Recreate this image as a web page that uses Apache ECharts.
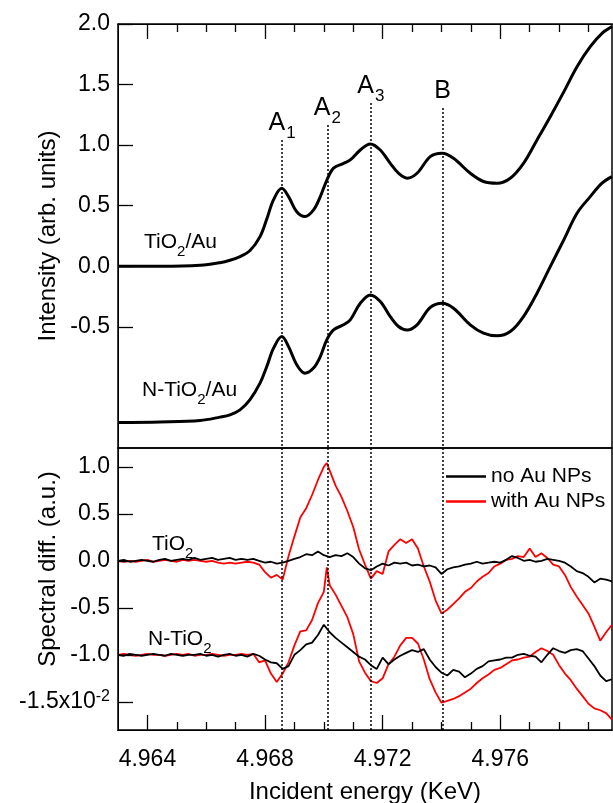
<!DOCTYPE html>
<html>
<head>
<meta charset="utf-8">
<script src="https://cdn.jsdelivr.net/npm/echarts@6.0.0/dist/echarts.min.js"></script>
<style>
html,body{margin:0;padding:0;background:#fff;}
#chart{width:613px;height:803px;}
</style>
</head>
<body>
<div id="chart"></div>
<script>
// ---------- Top panel: XANES spectra ----------
var topEnergy = [4.96300,4.96443,4.96579,4.96647,4.96681,4.96715,4.96749,4.96783,4.96806,4.96829,
  4.96857,4.96880,4.96908,4.96936,4.96965,4.96988,4.97010,4.97033,4.97067,4.97090,
  4.97124,4.97158,4.97192,4.97226,4.97254,4.97283,4.97317,4.97362,4.97402,4.97441,
  4.97498,4.97543,4.97589,4.97634,4.97679,4.97725,4.97770,4.97816,4.97861,4.97906,
  4.97946,4.97980];
var tio2Au = [0.00,0.00,0.008,0.03,0.05,0.08,0.13,0.245,0.39,0.55,
  0.644,0.575,0.45,0.41,0.465,0.575,0.71,0.81,0.85,0.878,
  0.96,1.01,0.96,0.85,0.768,0.727,0.768,0.905,0.933,0.892,
  0.768,0.70,0.686,0.727,0.85,1.043,1.235,1.44,1.648,1.813,
  1.923,1.978];
var nTio2Au = [-1.29,-1.285,-1.273,-1.245,-1.226,-1.185,-1.10,-0.965,-0.827,-0.676,
  -0.58,-0.663,-0.813,-0.882,-0.84,-0.745,-0.607,-0.525,-0.483,-0.442,
  -0.305,-0.236,-0.29,-0.415,-0.497,-0.525,-0.483,-0.34,-0.305,-0.346,
  -0.483,-0.552,-0.574,-0.539,-0.415,-0.222,-0.003,0.218,0.438,0.575,
  0.686,0.74];

// Peak markers
var peakNames = ['A1','A2','A3','B'];
var peakEnergies = [4.96858, 4.97012, 4.97160, 4.97404];
var peakTops = [1.043, 1.167, 1.348, 1.307];

// ---------- Bottom panel: spectral differences (x10^-2) ----------
var diffEnergy = [4.9630,4.9632,4.9634,4.9636,4.9638,4.9640,4.9642,4.9644,4.9646,4.9648,
  4.9650,4.9652,4.9654,4.9656,4.9658,4.9660,4.9662,4.9664,4.9666,4.9668,
  4.9670,4.9672,4.9674,4.9676,4.9678,4.9680,4.9682,4.9684,4.9686,4.9688,
  4.9690,4.9692,4.9694,4.9696,4.9698,4.9700,4.9701,4.9702,4.9704,4.9706,
  4.9708,4.9710,4.9712,4.9714,4.9716,4.9718,4.9720,4.9722,4.9724,4.9726,
  4.9728,4.9730,4.9732,4.9734,4.9736,4.9738,4.9740,4.9742,4.9744,4.9746,
  4.9748,4.9750,4.9752,4.9754,4.9756,4.9758,4.9760,4.9762,4.9764,4.9766,
  4.9768,4.9770,4.9772,4.9774,4.9776,4.9778,4.9780,4.9782,4.9784,4.9786,
  4.9788,4.9790,4.9792,4.9794,4.9796,4.9798];
var tio2NoAu = [0.00,0.01,-0.01,0.00,0.01,0.00,-0.01,0.01,0.02,0.00,
  0.01,0.02,0.01,0.03,0.01,0.02,0.03,0.01,0.02,0.03,
  0.01,0.02,0.01,0.02,0.00,-0.02,-0.01,-0.03,-0.02,0.00,
  0.02,0.04,0.07,0.06,0.10,0.06,0.05,0.04,0.06,0.05,
  0.08,0.04,-0.03,-0.08,-0.10,-0.06,-0.03,-0.05,-0.02,-0.03,
  -0.02,-0.05,-0.04,-0.06,-0.05,-0.07,-0.14,-0.09,-0.07,-0.06,
  -0.04,-0.03,-0.01,-0.03,-0.02,-0.01,-0.02,0.01,0.05,0.03,
  0.00,0.01,-0.01,0.00,0.02,0.01,0.00,-0.02,-0.06,-0.11,
  -0.13,-0.17,-0.23,-0.19,-0.20,-0.22];
var tio2WithAu = [0.00,-0.01,0.00,-0.01,0.00,0.01,-0.01,0.00,0.01,0.00,
  -0.01,0.01,0.00,0.01,0.00,-0.01,0.00,-0.02,-0.03,-0.02,
  -0.03,-0.02,-0.01,-0.02,-0.04,-0.12,-0.18,-0.15,-0.20,0.05,
  0.26,0.46,0.56,0.70,0.86,1.00,1.04,0.96,0.80,0.68,
  0.53,0.36,0.12,-0.04,-0.19,-0.11,-0.14,0.10,0.17,0.23,
  0.19,0.23,0.13,-0.06,-0.22,-0.42,-0.56,-0.52,-0.46,-0.40,
  -0.33,-0.29,-0.22,-0.17,-0.13,-0.06,-0.03,0.01,0.02,0.05,
  0.04,0.13,0.04,0.08,0.03,-0.04,-0.06,-0.15,-0.28,-0.38,
  -0.47,-0.56,-0.70,-0.85,-0.76,-0.68];
var nTio2NoAu = [-1.00,-1.01,-0.99,-1.00,-1.01,-1.00,-0.99,-1.00,-1.01,-0.99,
  -1.00,-1.01,-1.00,-1.00,-0.99,-1.01,-1.00,-1.02,-1.00,-0.99,
  -1.01,-1.00,-1.02,-0.99,-1.01,-1.05,-1.08,-1.09,-1.15,-1.12,
  -1.00,-0.95,-0.89,-0.87,-0.79,-0.68,-0.72,-0.76,-0.82,-0.87,
  -0.92,-0.97,-1.02,-1.05,-1.11,-1.15,-1.03,-1.10,-1.05,-1.01,
  -0.98,-0.95,-0.97,-0.94,-1.05,-1.13,-1.19,-1.22,-1.16,-1.18,
  -1.24,-1.20,-1.15,-1.12,-1.07,-1.06,-1.05,-1.03,-1.03,-1.00,
  -0.99,-1.01,-1.02,-1.08,-1.00,-0.93,-0.96,-0.98,-0.95,-0.94,
  -0.96,-1.04,-1.12,-1.22,-1.28,-1.26];
var nTio2WithAu = [-1.00,-0.99,-1.00,-1.01,-1.00,-0.99,-1.00,-1.00,-1.01,-1.00,
  -0.99,-1.00,-0.99,-1.01,-1.00,-1.00,-0.99,-1.00,-1.01,-1.00,
  -1.00,-0.99,-1.00,-0.99,-1.08,-1.06,-1.20,-1.29,-1.20,-1.08,
  -0.90,-0.75,-0.74,-0.63,-0.45,-0.33,-0.07,-0.26,-0.36,-0.48,
  -0.60,-0.78,-1.07,-1.19,-1.28,-1.30,-1.25,-1.10,-1.02,-0.90,
  -0.82,-0.82,-0.88,-1.05,-1.26,-1.40,-1.51,-1.49,-1.47,-1.44,
  -1.40,-1.36,-1.30,-1.25,-1.21,-1.16,-1.14,-1.10,-1.06,-1.05,
  -1.03,-1.02,-0.97,-0.93,-0.96,-1.00,-1.11,-1.20,-1.27,-1.36,
  -1.44,-1.52,-1.57,-1.59,-1.62,-1.69];

// Tick labels
var xMajorTicks = [4.964, 4.968, 4.972, 4.976];
var xMinorTicks = [4.965,4.966,4.967,4.969,4.970,4.971,4.973,4.974,4.975,4.977,4.978,4.979];
var topYTicks = [-0.5, 0, 0.5, 1.0, 1.5, 2.0];
var bottomYTicks = [-1.5, -1.0, -0.5, 0, 0.5, 1.0];

function pairs(xs, ys){ return xs.map(function(x,i){ return [x, ys[i]]; }); }

var FONT = '"Liberation Sans", Arial, sans-serif';
var chart = echarts.init(document.getElementById('chart'), null, {renderer:'canvas'});

// layout
var X_MIN = 4.963, X_MAX = 4.9798;
var PLOT_W = 494, TOP_H = 424, BOT_H = 282;
var TOP_MIN = -1.5, TOP_MAX = 2.0, BOT_MIN = -1.8, BOT_MAX = 1.2;
var MAJOR_PX = 15, MINOR_PX = 8;
function pxToX(px){ return px * (X_MAX - X_MIN) / PLOT_W; }
function pxToTop(px){ return px * (TOP_MAX - TOP_MIN) / TOP_H; }
function pxToBot(px){ return px * (BOT_MAX - BOT_MIN) / BOT_H; }

function axLine(){ return {show:true, onZero:false, lineStyle:{color:'#000'}}; }

function xAxisCfg(grid, pos, ticks, len, withLabels){
  var c = {
    gridIndex: grid, type:'value', position: pos, min: X_MIN, max: X_MAX, z: 10,
    axisLine: axLine(), splitLine:{show:false},
    axisTick:{show:true, inside:true, length:len, customValues: ticks, lineStyle:{color:'#000'}},
    axisLabel:{show:false}
  };
  if (withLabels) {
    c.axisLabel = {show:true, customValues: xMajorTicks, margin: 18, color:'#000', fontSize: 23, fontFamily: FONT,
      formatter: function(v){ return v.toFixed(3); }};
    c.name = 'Incident energy (KeV)';
    c.nameLocation = 'middle';
    c.nameGap = 50;
    c.nameMoveOverlap = false;
    c.nameTextStyle = {color:'#000', fontSize: 24, fontFamily: FONT};
  }
  return c;
}

var peakLines = peakEnergies.map(function(e,i){
  var name = peakNames[i];
  var txt = name.length > 1 ? '{m|' + name[0] + '}{s|' + name.slice(1) + '}' : '{m|' + name + '}';
  return [{coord:[e, peakTops[i]], label:{formatter: txt}}, {coord:[e, TOP_MIN]}];
});
var peakLinesBottom = peakEnergies.map(function(e){
  return [{coord:[e, BOT_MAX]}, {coord:[e, BOT_MIN]}];
});

// inward tick marks placed through the data scales
var topTickLines = [];
xMajorTicks.forEach(function(x){ topTickLines.push([{coord:[x, TOP_MAX]}, {coord:[x, TOP_MAX - pxToTop(MAJOR_PX)]}]); });
xMinorTicks.forEach(function(x){ topTickLines.push([{coord:[x, TOP_MAX]}, {coord:[x, TOP_MAX - pxToTop(MINOR_PX)]}]); });
topYTicks.forEach(function(y){ topTickLines.push([{coord:[X_MIN, y]}, {coord:[X_MIN + pxToX(MAJOR_PX), y]}]); });
var botTickLines = [];
xMajorTicks.forEach(function(x){ botTickLines.push([{coord:[x, BOT_MIN]}, {coord:[x, BOT_MIN + pxToBot(MAJOR_PX)]}]); });
xMinorTicks.forEach(function(x){ botTickLines.push([{coord:[x, BOT_MIN]}, {coord:[x, BOT_MIN + pxToBot(MINOR_PX)]}]); });
bottomYTicks.forEach(function(y){ botTickLines.push([{coord:[X_MIN, y]}, {coord:[X_MIN + pxToX(MAJOR_PX), y]}]); });
var tickMarkStyle = {silent:true, symbol:['none','none'], animation:false,
  lineStyle:{type:'solid', color:'#000', width:1.3}, label:{show:false}, emphasis:{disabled:true}};

var gridBase = {left:118, width:PLOT_W, show:true, borderColor:'#000', borderWidth:1.5,
  containLabel:false, outerBoundsMode:'none'};

var option = {
  animation: false,
  textStyle: {fontFamily: FONT, color:'#000'},
  grid: [
    Object.assign({}, gridBase, {top:24, height:TOP_H}),
    Object.assign({}, gridBase, {top:448, height:BOT_H})
  ],
  xAxis: [
    xAxisCfg(0, 'top', xMajorTicks, MAJOR_PX, false),
    xAxisCfg(0, 'top', xMinorTicks, MINOR_PX, false),
    xAxisCfg(1, 'bottom', xMajorTicks, MAJOR_PX, true),
    xAxisCfg(1, 'bottom', xMinorTicks, MINOR_PX, false)
  ],
  yAxis: [
    {gridIndex:0, type:'value', min:TOP_MIN, max:TOP_MAX, z: 10,
     axisLine: axLine(), splitLine:{show:false},
     axisTick:{show:true, inside:true, length:MAJOR_PX, customValues: topYTicks, lineStyle:{color:'#000'}},
     axisLabel:{customValues: topYTicks, margin:8, color:'#000', fontSize:23, fontFamily: FONT,
       formatter: function(v){ return v.toFixed(1); }},
     name:'Intensity (arb. units)', nameLocation:'middle', nameGap:58, nameMoveOverlap:false,
     nameTextStyle:{color:'#000', fontSize:24, fontFamily: FONT}},
    {gridIndex:1, type:'value', min:BOT_MIN, max:BOT_MAX, z: 10,
     axisLine: axLine(), splitLine:{show:false},
     axisTick:{show:true, inside:true, length:MAJOR_PX, customValues: bottomYTicks, lineStyle:{color:'#000'}},
     axisLabel:{customValues: bottomYTicks, margin:8, color:'#000', fontSize:23, fontFamily: FONT,
       formatter: function(v){ return Math.abs(v + 1.5) < 1e-9 ? '{a|-1.5x10}{s|-2}' : '{a|' + v.toFixed(1) + '}'; },
       rich:{ a:{fontSize:23, color:'#000', fontFamily: FONT, lineHeight: 26},
              s:{fontSize:16, color:'#000', fontFamily: FONT, verticalAlign:'top', lineHeight: 16}}},
     name:'      Spectral diff. (a.u.)', nameLocation:'middle', nameGap:58, nameMoveOverlap:false,
     nameTextStyle:{color:'#000', fontSize:24, fontFamily: FONT}}
  ],
  legend: {
    left: 441, top: 461, orient:'vertical', selectedMode:false,
    itemWidth: 40, itemHeight: 2.5, itemGap: 4,
    textStyle:{fontSize:21, color:'#000', fontFamily: FONT},
    data:[{name:'no Au NPs', icon:'rect', itemStyle:{color:'#000'}},
          {name:'with Au NPs', icon:'rect', itemStyle:{color:'#ff0000'}}]
  },
  series: [
    {name:'TiO2/Au', type:'line', xAxisIndex:0, yAxisIndex:0, data: pairs(topEnergy, tio2Au),
     smooth:0.35, symbol:'none', lineStyle:{color:'#000', width:3}, z:3,
     markLine:{silent:true, symbol:['none','none'], animation:false,
       lineStyle:{type:[2,2], color:'#000', width:1.5},
       label:{show:true, position:'start', distance:4, color:'#000',
         rich:{m:{fontSize:25, color:'#000', fontFamily: FONT}, s:{fontSize:17, color:'#000', fontFamily: FONT, verticalAlign:'bottom', padding:[0,0,-6,1]}}},
       data: peakLines}},
    {name:'N-TiO2/Au', type:'line', xAxisIndex:0, yAxisIndex:0, data: pairs(topEnergy, nTio2Au),
     smooth:0.35, symbol:'none', lineStyle:{color:'#000', width:3}, z:3,
     markLine: Object.assign({}, tickMarkStyle, {data: topTickLines})},
    {name:'with Au NPs', type:'line', xAxisIndex:2, yAxisIndex:1, data: pairs(diffEnergy, tio2WithAu),
     symbol:'none', lineStyle:{color:'#ff0000', width:1.8}, itemStyle:{color:'#ff0000'}, z:2},
    {name:'with Au NPs', type:'line', xAxisIndex:2, yAxisIndex:1, data: pairs(diffEnergy, nTio2WithAu),
     symbol:'none', lineStyle:{color:'#ff0000', width:1.8}, itemStyle:{color:'#ff0000'}, z:2},
    {name:'no Au NPs', type:'line', xAxisIndex:2, yAxisIndex:1, data: pairs(diffEnergy, tio2NoAu),
     symbol:'none', lineStyle:{color:'#000', width:1.8}, itemStyle:{color:'#000'}, z:3,
     markLine:{silent:true, symbol:['none','none'], animation:false,
       lineStyle:{type:[2,2], color:'#000', width:1.5}, label:{show:false},
       data: peakLinesBottom}},
    {name:'no Au NPs', type:'line', xAxisIndex:2, yAxisIndex:1, data: pairs(diffEnergy, nTio2NoAu),
     symbol:'none', lineStyle:{color:'#000', width:1.8}, itemStyle:{color:'#000'}, z:3,
     markLine: Object.assign({}, tickMarkStyle, {data: botTickLines})}
  ],
  graphic: [
    {type:'text', left:144, top:232, style:{text:'{n|TiO}{s|2}{n|/Au}', rich:{n:{fontSize:21, fill:'#000', fontFamily: FONT}, s:{fontSize:15, fill:'#000', fontFamily: FONT, verticalAlign:'bottom', padding:[0,0,-6,0]}}}},
    {type:'text', left:142, top:380, style:{text:'{n|N-TiO}{s|2}{n|/Au}', rich:{n:{fontSize:21, fill:'#000', fontFamily: FONT}, s:{fontSize:15, fill:'#000', fontFamily: FONT, verticalAlign:'bottom', padding:[0,0,-6,0]}}}},
    {type:'text', left:152, top:534, style:{text:'{n|TiO}{s|2}', rich:{n:{fontSize:21, fill:'#000', fontFamily: FONT}, s:{fontSize:15, fill:'#000', fontFamily: FONT, verticalAlign:'bottom', padding:[0,0,-6,0]}}}},
    {type:'text', left:148, top:629, style:{text:'{n|N-TiO}{s|2}', rich:{n:{fontSize:21, fill:'#000', fontFamily: FONT}, s:{fontSize:15, fill:'#000', fontFamily: FONT, verticalAlign:'bottom', padding:[0,0,-6,0]}}}}
  ]
};
chart.setOption(option);
</script>
</body>
</html>
